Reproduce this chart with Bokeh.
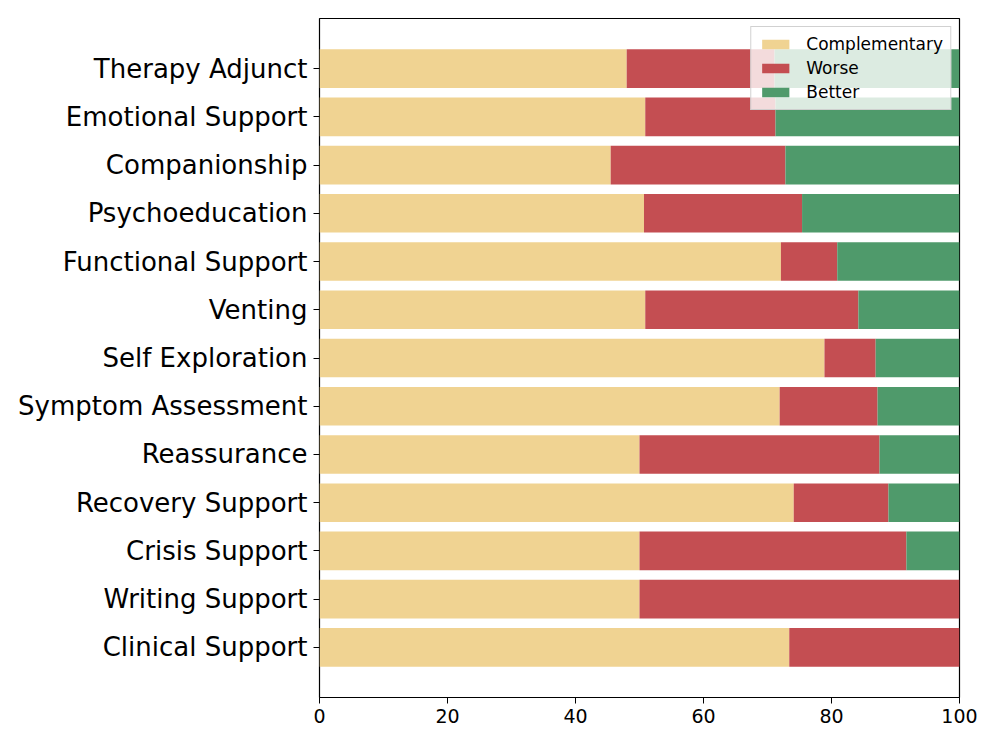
from bokeh.plotting import figure
from bokeh.models import Range1d, FixedTicker, ColumnDataSource, Legend, LegendItem
from bokeh.embed import file_html
from bokeh.resources import INLINE

# Categories listed bottom -> top
categories = ["Clinical Support", "Writing Support", "Crisis Support", "Recovery Support",
              "Reassurance", "Symptom Assessment", "Self Exploration", "Venting",
              "Functional Support", "Psychoeducation", "Companionship",
              "Emotional Support", "Therapy Adjunct"]
complementary = [73.4, 50.0, 50.0, 74.1, 50.0, 71.9, 78.9, 50.9, 72.1, 50.7, 45.5, 50.9, 48.0]
worse = [26.6, 50.0, 41.7, 14.8, 37.5, 15.3, 8.0, 33.3, 8.8, 24.7, 27.3, 20.35, 23.1]
better = [0.0, 0.0, 8.3, 11.1, 12.5, 12.8, 13.1, 15.8, 19.1, 24.6, 27.2, 28.75, 28.9]
x_ticks = [0, 20, 40, 60, 80, 100]

series_names = ["Complementary", "Worse", "Better"]
colors = ["#F0D392", "#C44E52", "#4F9A6B"]

ypos = list(range(len(categories)))
c_end = [a for a in complementary]
w_end = [a + b for a, b in zip(complementary, worse)]
b_end = [a + b + c for a, b, c in zip(complementary, worse, better)]
src = ColumnDataSource(dict(y=ypos, c0=[0] * len(ypos), c1=c_end, w1=w_end, b1=b_end))

p = figure(width=980, height=730, output_backend="svg", toolbar_location=None,
           x_range=Range1d(0, 100), y_range=Range1d(-1.04, 13.04))
p.min_border_left = 319
p.min_border_right = 21
p.min_border_top = 18
p.min_border_bottom = 33

r1 = p.hbar(y="y", left="c0", right="c1", height=0.8, color=colors[0], line_color=None, source=src)
r2 = p.hbar(y="y", left="c1", right="w1", height=0.8, color=colors[1], line_color=None, source=src)
r3 = p.hbar(y="y", left="w1", right="b1", height=0.8, color=colors[2], line_color=None, source=src)

p.xgrid.visible = False
p.ygrid.visible = False
p.outline_line_color = "black"
p.outline_line_width = 1.2

p.xaxis.ticker = FixedTicker(ticks=x_ticks)
p.xaxis.minor_tick_line_color = None
p.xaxis.major_tick_out = 6
p.xaxis.major_tick_in = 0
p.xaxis.major_label_text_font = "DejaVu Sans"
p.xaxis.major_label_text_font_size = "19px"
p.xaxis.major_label_text_color = "black"
p.xaxis.axis_line_color = None
p.xaxis.major_tick_line_color = "black"
p.xaxis.major_label_standoff = 5

p.yaxis.ticker = FixedTicker(ticks=ypos)
p.yaxis.major_label_overrides = {i: c for i, c in enumerate(categories)}
p.yaxis.minor_tick_line_color = None
p.yaxis.major_tick_out = 6
p.yaxis.major_tick_in = 0
p.yaxis.major_label_text_font = "DejaVu Sans"
p.yaxis.major_label_text_font_size = "26px"
p.yaxis.major_label_text_color = "black"
p.yaxis.axis_line_color = None
p.yaxis.major_tick_line_color = "black"
p.yaxis.major_label_standoff = 6

legend = Legend(items=[LegendItem(label=series_names[0], renderers=[r1]),
                       LegendItem(label=series_names[1], renderers=[r2]),
                       LegendItem(label=series_names[2], renderers=[r3])],
                location="top_right")
legend.label_text_font = "DejaVu Sans"
legend.label_text_font_size = "17px"
legend.label_text_color = "black"
legend.glyph_width = 34
legend.glyph_height = 12
legend.label_height = 15
legend.spacing = 4
legend.padding = 7
legend.margin = 8
legend.label_standoff = 14
legend.background_fill_alpha = 0.8
legend.border_line_color = "#cccccc"
legend.border_line_alpha = 0.9
p.add_layout(legend)

open("out.html", "w").write(file_html(p, INLINE))
